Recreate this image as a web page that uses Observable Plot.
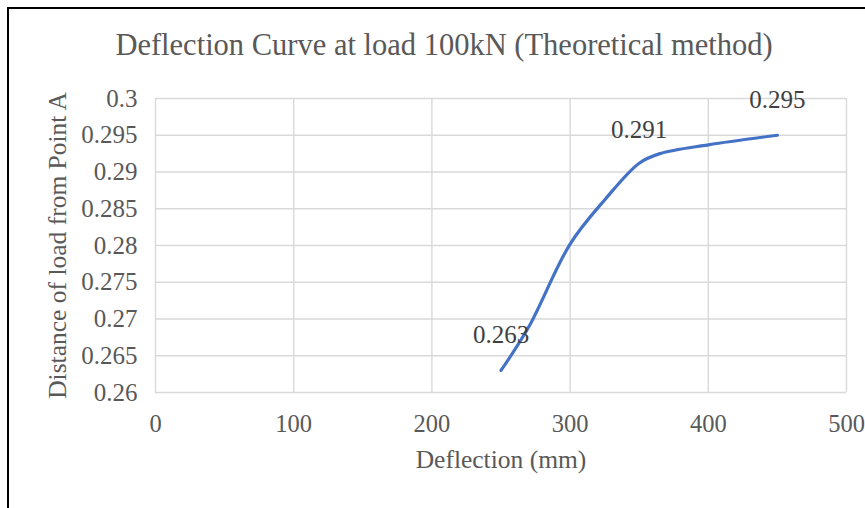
<!DOCTYPE html>
<html><head><meta charset="utf-8">
<script src="https://cdn.jsdelivr.net/npm/d3@7"></script>
<script src="https://cdn.jsdelivr.net/npm/@observablehq/plot@0.6"></script>
<style>
body{margin:0;background:#fff;}
#wrap{position:relative;width:865px;height:508px;overflow:hidden;background:#fff;}
#frame{position:absolute;left:7px;top:7px;width:900px;height:600px;border-left:2px solid #000;border-top:2px solid #000;}
#chart{position:absolute;left:0;top:0;}
</style></head><body><div id="wrap"><div id="frame"></div><div id="chart"></div></div>
<script>
// Curve points
const deflection = [250, 270, 300, 325, 350, 365, 400, 450];
const distance   = [0.263, 0.2689, 0.2802, 0.2862, 0.2912, 0.2925, 0.2937, 0.295];
// Data labels
const labelDeflection = [250, 350, 450];
const labelDistance   = [0.263, 0.291, 0.295];
// Ticks
const xTicks = [0, 100, 200, 300, 400, 500];
const yTicks = [0.26, 0.265, 0.27, 0.275, 0.28, 0.285, 0.29, 0.295, 0.3];
// Texts
const titleText = "Deflection Curve at load 100kN (Theoretical method)";
const xLabelText = "Deflection (mm)";
const yLabelText = "Distance of load from Point A";

const points = deflection.map((d, i) => ({x: d, y: distance[i]}));
const labels = labelDeflection.map((d, i) => ({x: d, y: labelDistance[i], t: String(labelDistance[i])}));

const font = "'Liberation Serif', 'Times New Roman', serif";
const textColor = "#595959";
const gridColor = "#d9d9d9";

const chart = Plot.plot({
  width: 865, height: 508,
  marginLeft: 155, marginRight: 19, marginTop: 98, marginBottom: 116,
  style: {fontFamily: font, color: textColor, background: "transparent", overflow: "visible"},
  x: {domain: [0, 500], ticks: xTicks, label: null},
  y: {domain: [0.26, 0.3], ticks: yTicks, label: null},
  marks: [
    Plot.gridX(xTicks, {stroke: gridColor, strokeOpacity: 1, strokeWidth: 1.4}),
    Plot.gridY(yTicks, {stroke: gridColor, strokeOpacity: 1, strokeWidth: 1.4}),
    Plot.axisX(xTicks, {tickSize: 0, tickPadding: 22, fontSize: 24.5, fill: textColor, tickFormat: d => String(d)}),
    Plot.axisY(yTicks, {tickSize: 0, tickPadding: 18, fontSize: 25, fill: textColor, tickFormat: d => String(d)}),
    Plot.line(points, {x: "x", y: "y", stroke: "#4472C4", strokeWidth: 3.2, curve: "catmull-rom", strokeLinecap: "round"}),
    Plot.text(labels, {x: "x", y: "y", text: "t", dy: -27, lineAnchor: "bottom", fontSize: 25, fill: "#404040"}),
    Plot.text([titleText], {frameAnchor: "top", dx: -57, dy: -53, lineAnchor: "middle", fontSize: 30.5, fill: textColor}),
    Plot.text([xLabelText], {frameAnchor: "bottom", dy: 67, lineAnchor: "middle", fontSize: 25.5, fill: textColor}),
    Plot.text([yLabelText], {frameAnchor: "left", dx: -98, rotate: -90, textAnchor: "middle", lineAnchor: "middle", fontSize: 25.5, fill: textColor})
  ]
});
document.getElementById("chart").appendChild(chart);
</script>
</body></html>
